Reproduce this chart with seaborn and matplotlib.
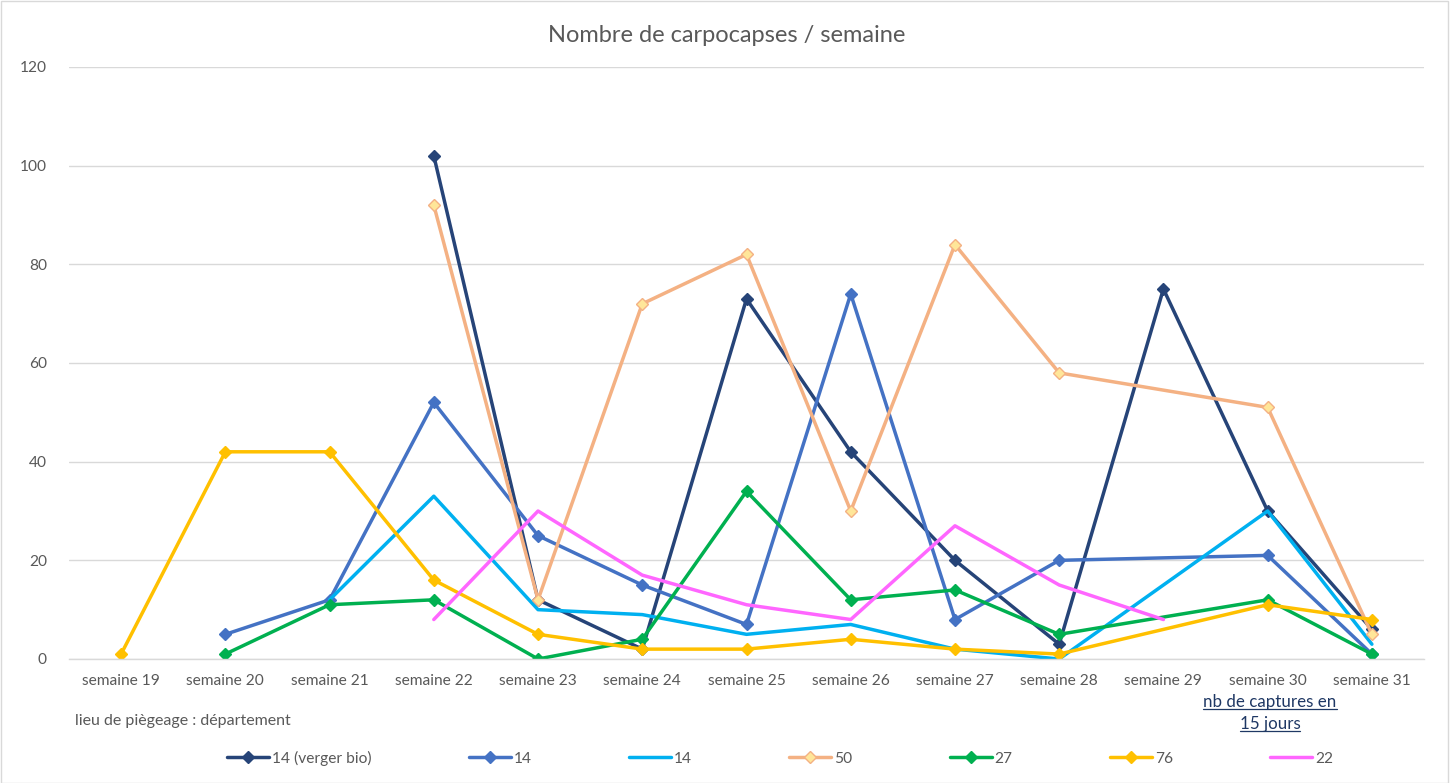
import numpy as np
import pandas as pd
import matplotlib
matplotlib.use("Agg")
import matplotlib.pyplot as plt
import seaborn as sns
from matplotlib.lines import Line2D
from matplotlib.patches import Rectangle

# ---- data ----
weeks = [f"semaine {i}" for i in range(19, 32)]
nan = np.nan
s14_bio = [nan, nan, nan, 102, 12, 2, 73, 42, 20, 3, 75, 30, 6]
s14_a = [nan, 5, 12, 52, 25, 15, 7, 74, 8, 20, nan, 21, 1]
s14_b = [nan, nan, 12, 33, 10, 9, 5, 7, 2, 0, nan, 30, 3]
s50 = [nan, nan, nan, 92, 12, 72, 82, 30, 84, 58, nan, 51, 5]
s27 = [nan, 1, 11, 12, 0, 4, 34, 12, 14, 5, nan, 12, 1]
s76 = [1, 42, 42, 16, 5, 2, 2, 4, 2, 1, nan, 11, 8]
s22 = [nan, nan, nan, 8, 30, 17, 11, 8, 27, 15, 8, nan, nan]
series_labels = ["14 (verger bio)", "14", "14", "50", "27", "76", "22"]
series_values = [s14_bio, s14_a, s14_b, s50, s27, s76, s22]
yticks = [0, 20, 40, 60, 80, 100, 120]

colors = ["#264478", "#4472C4", "#00B0F0", "#F4B183", "#00B050", "#FFC000", "#FF66FF"]
markers = ["D", "D", None, "D", "D", "D", None]
mfaces = ["#264478", "#4472C4", None, "#FFE699", "#00B050", "#FFC000", None]

sns.set_theme(style="white")
plt.rcParams["font.family"] = ["Lato", "DejaVu Sans"]

W, H = 1455, 783
fig = plt.figure(figsize=(W / 100, H / 100), dpi=100)
ax = fig.add_axes([69 / W, 1 - 659 / H, (1424 - 69) / W, (659 - 67) / H])

x_idx = np.arange(len(weeks))
for lab, vals, c, m, mf in zip(series_labels, series_values, colors, markers, mfaces):
    df = pd.DataFrame({"x": x_idx, "y": vals}).dropna()
    kw = dict(color=c, linewidth=2.5, label=lab, ax=ax, sort=False)
    if m:
        kw.update(marker=m, markersize=6, markerfacecolor=mf, markeredgecolor=c,
                  markeredgewidth=1.0)
    sns.lineplot(data=df, x="x", y="y", **kw)

ax.set_xlim(-0.5, len(weeks) - 0.5)
ax.set_ylim(0, 120)
ax.set_yticks(yticks)
ax.set_xticks(x_idx)
ax.set_xticklabels(weeks)
ax.set_xlabel("")
ax.set_ylabel("")
ax.grid(axis="y", color="#D9D9D9", linewidth=1.0)
ax.set_axisbelow(True)
for s in ["left", "right", "top"]:
    ax.spines[s].set_visible(False)
ax.spines["bottom"].set_color("#D9D9D9")
ax.spines["bottom"].set_linewidth(1.0)
ax.tick_params(axis="both", length=0, labelsize=11.2, labelcolor="#595959")
ax.tick_params(axis="x", pad=11)
ax.tick_params(axis="y", pad=16)

fig.text(727 / W, 1 - 35 / H, "Nombre de carpocapses / semaine", ha="center", va="center",
         fontsize=17, color="#595959")
fig.text(75 / W, 1 - 721 / H, "lieu de piègeage : département", ha="left", va="center",
         fontsize=11.5, color="#595959")
t1 = fig.text(1270 / W, 1 - 702 / H, "nb de captures en", ha="center", va="center",
              fontsize=12.2, color="#1F3864")
t2 = fig.text(1270 / W, 1 - 724 / H, "15 jours", ha="center", va="center",
              fontsize=12.2, color="#1F3864")

leg = ax.legend(loc="center", bbox_to_anchor=(780 / W, 1 - 758 / H),
                bbox_transform=fig.transFigure, ncol=7, frameon=False, fontsize=11.2,
                handlelength=2.7, handletextpad=0.2, columnspacing=6.25)
for t in leg.get_texts():
    t.set_color("#595959")

fig.canvas.draw()
r = fig.canvas.get_renderer()
for t in (t1, t2):
    bb = t.get_window_extent(r)
    y = bb.y0 + 1
    fig.add_artist(Line2D([bb.x0 / W, bb.x1 / W], [y / H, y / H], transform=fig.transFigure,
                          color="#1F3864", linewidth=0.9))

fig.add_artist(Rectangle((0.5 / W, 0.5 / H), (W - 8) / W, (H - 1.5) / H, transform=fig.transFigure,
                         fill=False, edgecolor="#D9D9D9", linewidth=1.0))

fig.savefig("out.png", dpi=100)
